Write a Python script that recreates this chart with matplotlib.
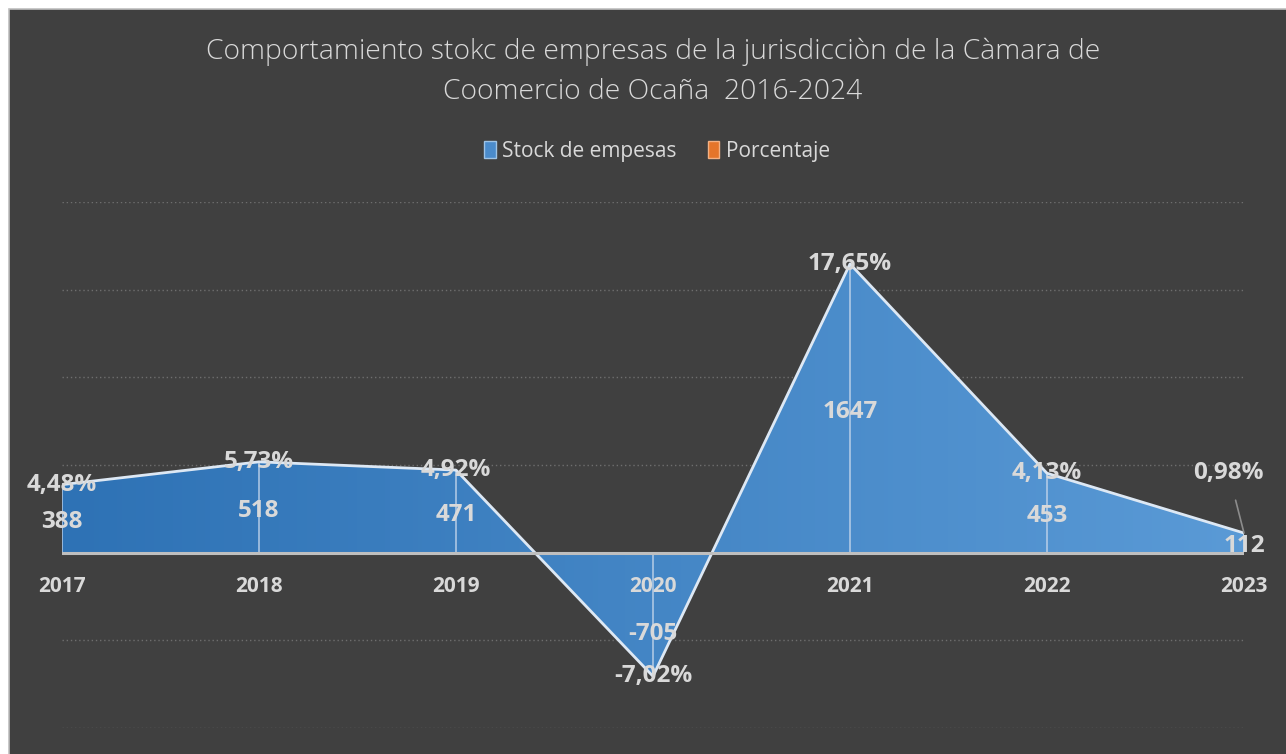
import matplotlib.pyplot as plt
import numpy as np
from matplotlib.colors import LinearSegmentedColormap
from matplotlib.patches import Patch, Rectangle

years = ["2017", "2018", "2019", "2020", "2021", "2022", "2023"]
stock = [388, 518, 471, -705, 1647, 453, 112]
porcentaje = [4.48, 5.73, 4.92, -7.02, 17.65, 4.13, 0.98]

BG = "#404040"
TXT = "#d9d9d9"

plt.rcParams["font.family"] = ["Open Sans", "DejaVu Sans"]

W, H = 1286, 754
fig = plt.figure(figsize=(W / 100, H / 100), dpi=100, facecolor="white")

# chart area panel (drawn under the axes)
fig.patches.append(
    Rectangle(
        (9 / W, -0.01), 1.0, (H - 9) / H + 0.01,
        transform=fig.transFigure,
        facecolor=BG,
        edgecolor="#bfbfbf",
        linewidth=1.2,
        zorder=-5,
    )
)

ax = fig.add_axes([62 / W, (H - 728) / H, (1244 - 62) / W, (728 - 202) / H])
ax.set_facecolor("none")
ax.set_zorder(2)

x = np.arange(len(years))

for y in [-1000, -500, 500, 1000, 1500, 2000]:
    ax.axhline(y, color="#6e6e6e", lw=1.0, ls=(0, (1, 2)), zorder=1)

# area with horizontal gradient
poly = ax.fill_between(x, 0, stock, color="none", lw=0, zorder=2)
cmap = LinearSegmentedColormap.from_list("blu", ["#2e72b5", "#5a9ad6"])
grad = np.linspace(0, 1, 256).reshape(1, -1)
img = ax.imshow(
    grad,
    cmap=cmap,
    aspect="auto",
    extent=[0, len(years) - 1, -1000, 2000],
    zorder=2,
)
img.set_clip_path(poly.get_paths()[0], transform=ax.transData)
ax.set_xlim(0, len(years) - 1)
ax.set_ylim(-1000, 2000)

ax.plot(x, stock, color="#dde8f4", lw=2.0, zorder=4)

for xi, v in zip(x, stock):
    ax.plot([xi, xi], [0, v], color="#c8d8ec", lw=1.2, alpha=0.8, zorder=3)

ax.axhline(0, color="#bfbfbf", lw=2.2, zorder=4)

# labels
for xi, v, p in zip(x, stock, porcentaje):
    vy = v / 2 - 20 if v > 0 else v * 0.66
    ax.text(xi, vy, str(v), ha="center", va="center", color=TXT,
            fontsize=17.5, fontweight="bold", zorder=6)
    ptxt = f"{p:.2f}%".replace(".", ",")
    if xi == len(years) - 1:
        ax.annotate(
            ptxt, xy=(xi, v), xytext=(-11, 43), textcoords="offset points",
            ha="center", va="center", color=TXT, fontsize=17.5,
            fontweight="bold", zorder=6, annotation_clip=False,
            arrowprops=dict(arrowstyle="-", color="#8c8c8c", lw=1.2,
                            shrinkA=9, shrinkB=0),
        )
    else:
        ax.text(xi, v, ptxt, ha="center", va="center", color=TXT,
                fontsize=17.5, fontweight="bold", zorder=6, clip_on=False)

ax.set_xticks(x)
ax.set_xticklabels([])
for xi, yr in zip(x, years):
    ax.annotate(yr, xy=(xi, 0), xytext=(0, -24), textcoords="offset points",
                ha="center", va="center", color=TXT, fontsize=15,
                fontweight="bold", annotation_clip=False, zorder=6)

ax.set_yticks([])
ax.tick_params(length=0)
for s in ax.spines.values():
    s.set_visible(False)

fig.text(
    653 / W, 1 - 72 / H,
    "Comportamiento stokc de empresas de la jurisdicciòn de la Càmara de\n"
    "Coomercio de Ocaña  2016-2024",
    ha="center", va="center", color=TXT, fontsize=20.3, fontweight="light",
    linespacing=1.55,
)

handles = [
    Patch(facecolor="#4a8bcb", edgecolor="#9dc3e6"),
    Patch(facecolor="#e5752a", edgecolor="#f4b183"),
]
fig.legend(
    handles, ["Stock de empesas", "Porcentaje"],
    loc="center", bbox_to_anchor=(657 / W, 1 - 151 / H),
    ncol=2, frameon=False, fontsize=15, labelcolor=TXT,
    handlelength=0.55, handleheight=0.85, handletextpad=0.3,
    columnspacing=1.5,
)

fig.savefig("out.png", dpi=100, facecolor="white")
